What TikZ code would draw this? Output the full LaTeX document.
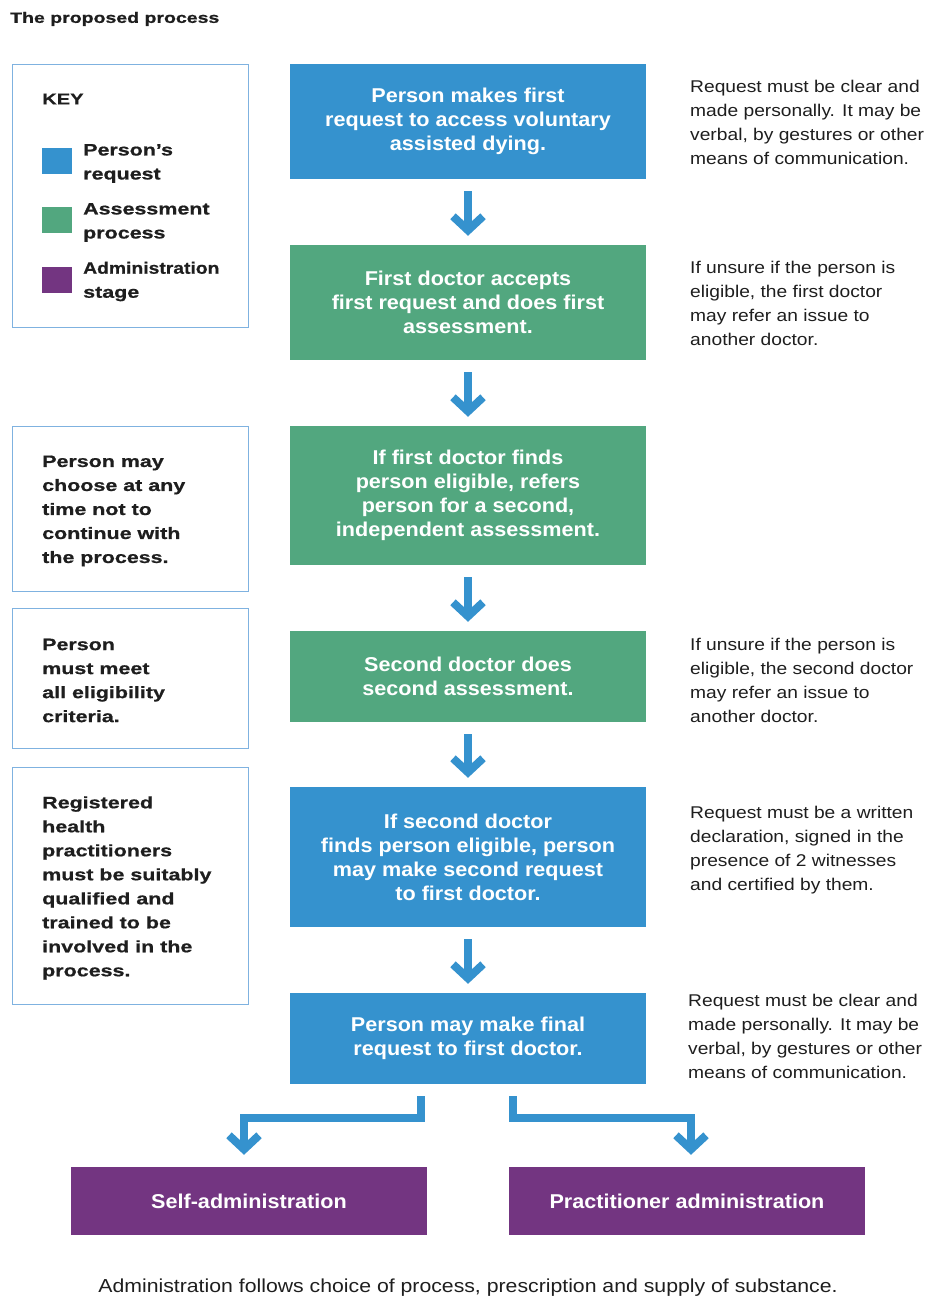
\documentclass[tikz,border=0pt]{standalone}
\usepackage{fontspec}
\usepackage{graphicx}
\setmainfont{Liberation Sans}
\newfontfamily\wideF{Liberation Sans}[FakeStretch=1.3,FakeBold=0.8]
\newfontfamily\midF{Liberation Sans}[FakeStretch=1.08]
\newfontfamily\rtF{Liberation Sans}[FakeStretch=1.13]
\usetikzlibrary{arrows.meta}
\definecolor{cblue}{HTML}{3592CE}
\definecolor{cgreen}{HTML}{52A77F}
\definecolor{cpurple}{HTML}{733581}
\definecolor{ckey}{HTML}{7FB2E0}
\definecolor{ctext}{HTML}{1E1E1E}
\tikzset{
  flow/.style={minimum width=356pt, inner sep=0pt, text=white, align=center,
    font=\midF\bfseries\fontsize{20}{24}\selectfont},
  bluebox/.style={flow, fill=cblue},
  greenbox/.style={flow, fill=cgreen},
  purplebox/.style={flow, fill=cpurple, minimum height=68pt},
  sidebox/.style={draw=ckey, line width=1.4pt, minimum width=236pt, inner sep=0pt, anchor=north west},
  note/.style={anchor=west, inner sep=0pt, align=left, text=ctext,
    font=\rtF\fontsize{17}{24}\selectfont},
  leftnote/.style={anchor=west, inner sep=0pt, align=left, text=ctext,
    font=\wideF\bfseries\fontsize{16.5}{24}\selectfont},
  swatch/.style={minimum width=30pt, minimum height=26pt, inner sep=0pt, anchor=north west},
  flowarrow/.style={draw=cblue, line width=8pt, -{Straight Barb[length=14pt,width=30pt]}},
}
\begin{document}
\begin{tikzpicture}[x=1pt,y=-1pt]
\useasboundingbox (0,0) rectangle (928,1297);
% title
\node[anchor=west, inner sep=0pt, text=ctext, font=\wideF\bfseries\fontsize{15}{18}\selectfont] (title) at (10,19) {The proposed process};
% key
\node[sidebox, minimum height=263pt] (keybox) at (12,64) {};
\node[anchor=west, inner sep=0pt, text=ctext, font=\wideF\bfseries\fontsize{15.5}{18}\selectfont] (keytitle) at (42,99) {KEY};
\node[swatch, fill=cblue] (sw1) at (42,148) {};
\node[swatch, fill=cgreen] (sw2) at (42,207) {};
\node[swatch, fill=cpurple] (sw3) at (42,267) {};
\node[leftnote] (k1) at (83,163.5) {Person’s\\request};
\node[leftnote] (k2) at (83,222.5) {Assessment\\process};
\node[leftnote] (k3) at (83,281.5) {\scalebox{0.9}[1]{Administration}\\stage};
% side boxes
\node[sidebox, minimum height=165pt] (sa1) at (12,426) {};
\node[leftnote] (sa1t) at (42,511) {Person may\\choose at any\\time not to\\continue with\\the process.};
\node[sidebox, minimum height=140pt] (sb1) at (12,608) {};
\node[leftnote] (sb1t) at (42,680.5) {Person\\must meet\\all eligibility\\criteria.};
\node[sidebox, minimum height=237pt] (sc1) at (12,767) {};
\node[leftnote] (sc1t) at (42,888) {Registered\\health\\practitioners\\must be suitably\\qualified and\\trained to be\\involved in the\\process.};
% flow boxes
\node[bluebox, minimum height=115pt] (b1) at (468,121.5) {Person makes first\\request to access voluntary\\assisted dying.};
\node[greenbox, minimum height=115pt] (b2) at (468,302.5) {First doctor accepts\\first request and does first\\assessment.};
\node[greenbox, minimum height=139pt] (b3) at (468,495.5) {If first doctor finds\\person eligible, refers\\person for a second,\\independent assessment.};
\node[greenbox, minimum height=91pt] (b4) at (468,676.5) {Second doctor does\\second assessment.};
\node[bluebox, minimum height=140pt] (b5) at (468,857) {If second doctor\\finds person eligible, person\\may make second request\\to first doctor.};
\node[bluebox, minimum height=91pt] (b6) at (468,1038.5) {Person may make final\\request to first doctor.};
\node[purplebox] (sa) at (249,1201) {Self-administration};
\node[purplebox] (pa) at (687,1201) {Practitioner administration};
% notes
\node[note] (n1) at (690,122) {Request must be clear and\\made personally. It may be\\verbal, by gestures or other\\means of communication.};
\node[note] (n2) at (690,303) {If unsure if the person is\\eligible, the first doctor\\may refer an issue to\\another doctor.};
\node[note] (n4) at (690,680) {If unsure if the person is\\eligible, the second doctor\\may refer an issue to\\another doctor.};
\node[note] (n5) at (690,850.5) {Request must be a written\\declaration, signed in the\\presence of 2 witnesses\\and certified by them.};
\node[note] (n6) at (688,1036) {Request must be clear and\\made personally. It may be\\verbal, by gestures or other\\means of communication.};
% caption
\node[inner sep=0pt, text=ctext, font=\rtF\fontsize{18.8}{22}\selectfont] (cap) at (468,1288) {Administration follows choice of process, prescription and supply of substance.};
% arrows
\draw[flowarrow] ([yshift=-12pt]b1.south) -- ([yshift=9pt]b2.north);
\draw[flowarrow] ([yshift=-12pt]b2.south) -- ([yshift=9pt]b3.north);
\draw[flowarrow] ([yshift=-12pt]b3.south) -- ([yshift=9pt]b4.north);
\draw[flowarrow] ([yshift=-12pt]b4.south) -- ([yshift=9pt]b5.north);
\draw[flowarrow] ([yshift=-12pt]b5.south) -- ([yshift=9pt]b6.north);
\draw[flowarrow] ([xshift=-47pt,yshift=-12pt]b6.south) -- ++(0,22) -| ([xshift=-5pt,yshift=12pt]sa.north);
\draw[flowarrow] ([xshift=45pt,yshift=-12pt]b6.south) -- ++(0,22) -| ([xshift=4pt,yshift=12pt]pa.north);
\end{tikzpicture}
\end{document}
